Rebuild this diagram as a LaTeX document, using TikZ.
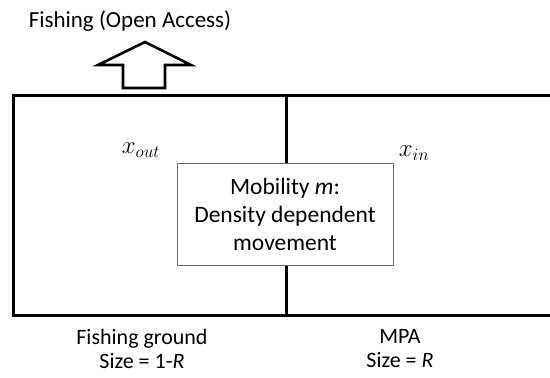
\documentclass[tikz,border=0pt]{standalone}
\usepackage{fontspec}
\setmainfont{Carlito}
\begin{document}
\begin{tikzpicture}[x=1pt,y=-1pt,
  wall/.style={line width=3pt},
  lbl/.style={font=\fontsize{22}{24}\selectfont, align=center, inner sep=0pt},
  mathlbl/.style={font=\fontsize{23}{26}\selectfont, inner sep=0pt},
  mobbox/.style={draw=black!60, line width=0.8pt, fill=white, font=\fontsize{23.5}{28}\selectfont, align=center, minimum width=216pt, minimum height=102pt, inner sep=0pt},
  bigarrow/.style={draw=black, line width=2.6pt, line join=miter, fill=white}]
\useasboundingbox (0,0) rectangle (550,378);
\coordinate (tr) at (551,95);
\coordinate (tl) at (13,95);
\coordinate (bl) at (13,315);
\coordinate (br) at (551,315);
\coordinate (mt) at (286,95);
\coordinate (mb) at (286,315);
\draw[wall, line join=miter] (tr) -- (tl) -- (bl) -- (br);
\draw[wall] (mt) -- (mb);
\node[mobbox] (mob) at (285,214) {Mobility \textit{m}:\\Density dependent\\movement};
\node[lbl, font=\fontsize{23}{26}\selectfont] (title) at (130,21) {Fishing (Open Access)};
\draw[bigarrow] (123,88) -- (123,65) -- (98,65) -- (145,42) -- (191,65) -- (165,65) -- (165,88) -- cycle;
\node[mathlbl] (xout) at (141,150) {$x_{out}$};
\node[mathlbl] (xin) at (414,153) {$x_{in}$};
\node[lbl] (fg) at (142,349) {Fishing ground\\Size = 1-\textit{R}};
\node[lbl] (mpa) at (400,349) {MPA\\Size = \textit{R}};
\end{tikzpicture}
\end{document}
